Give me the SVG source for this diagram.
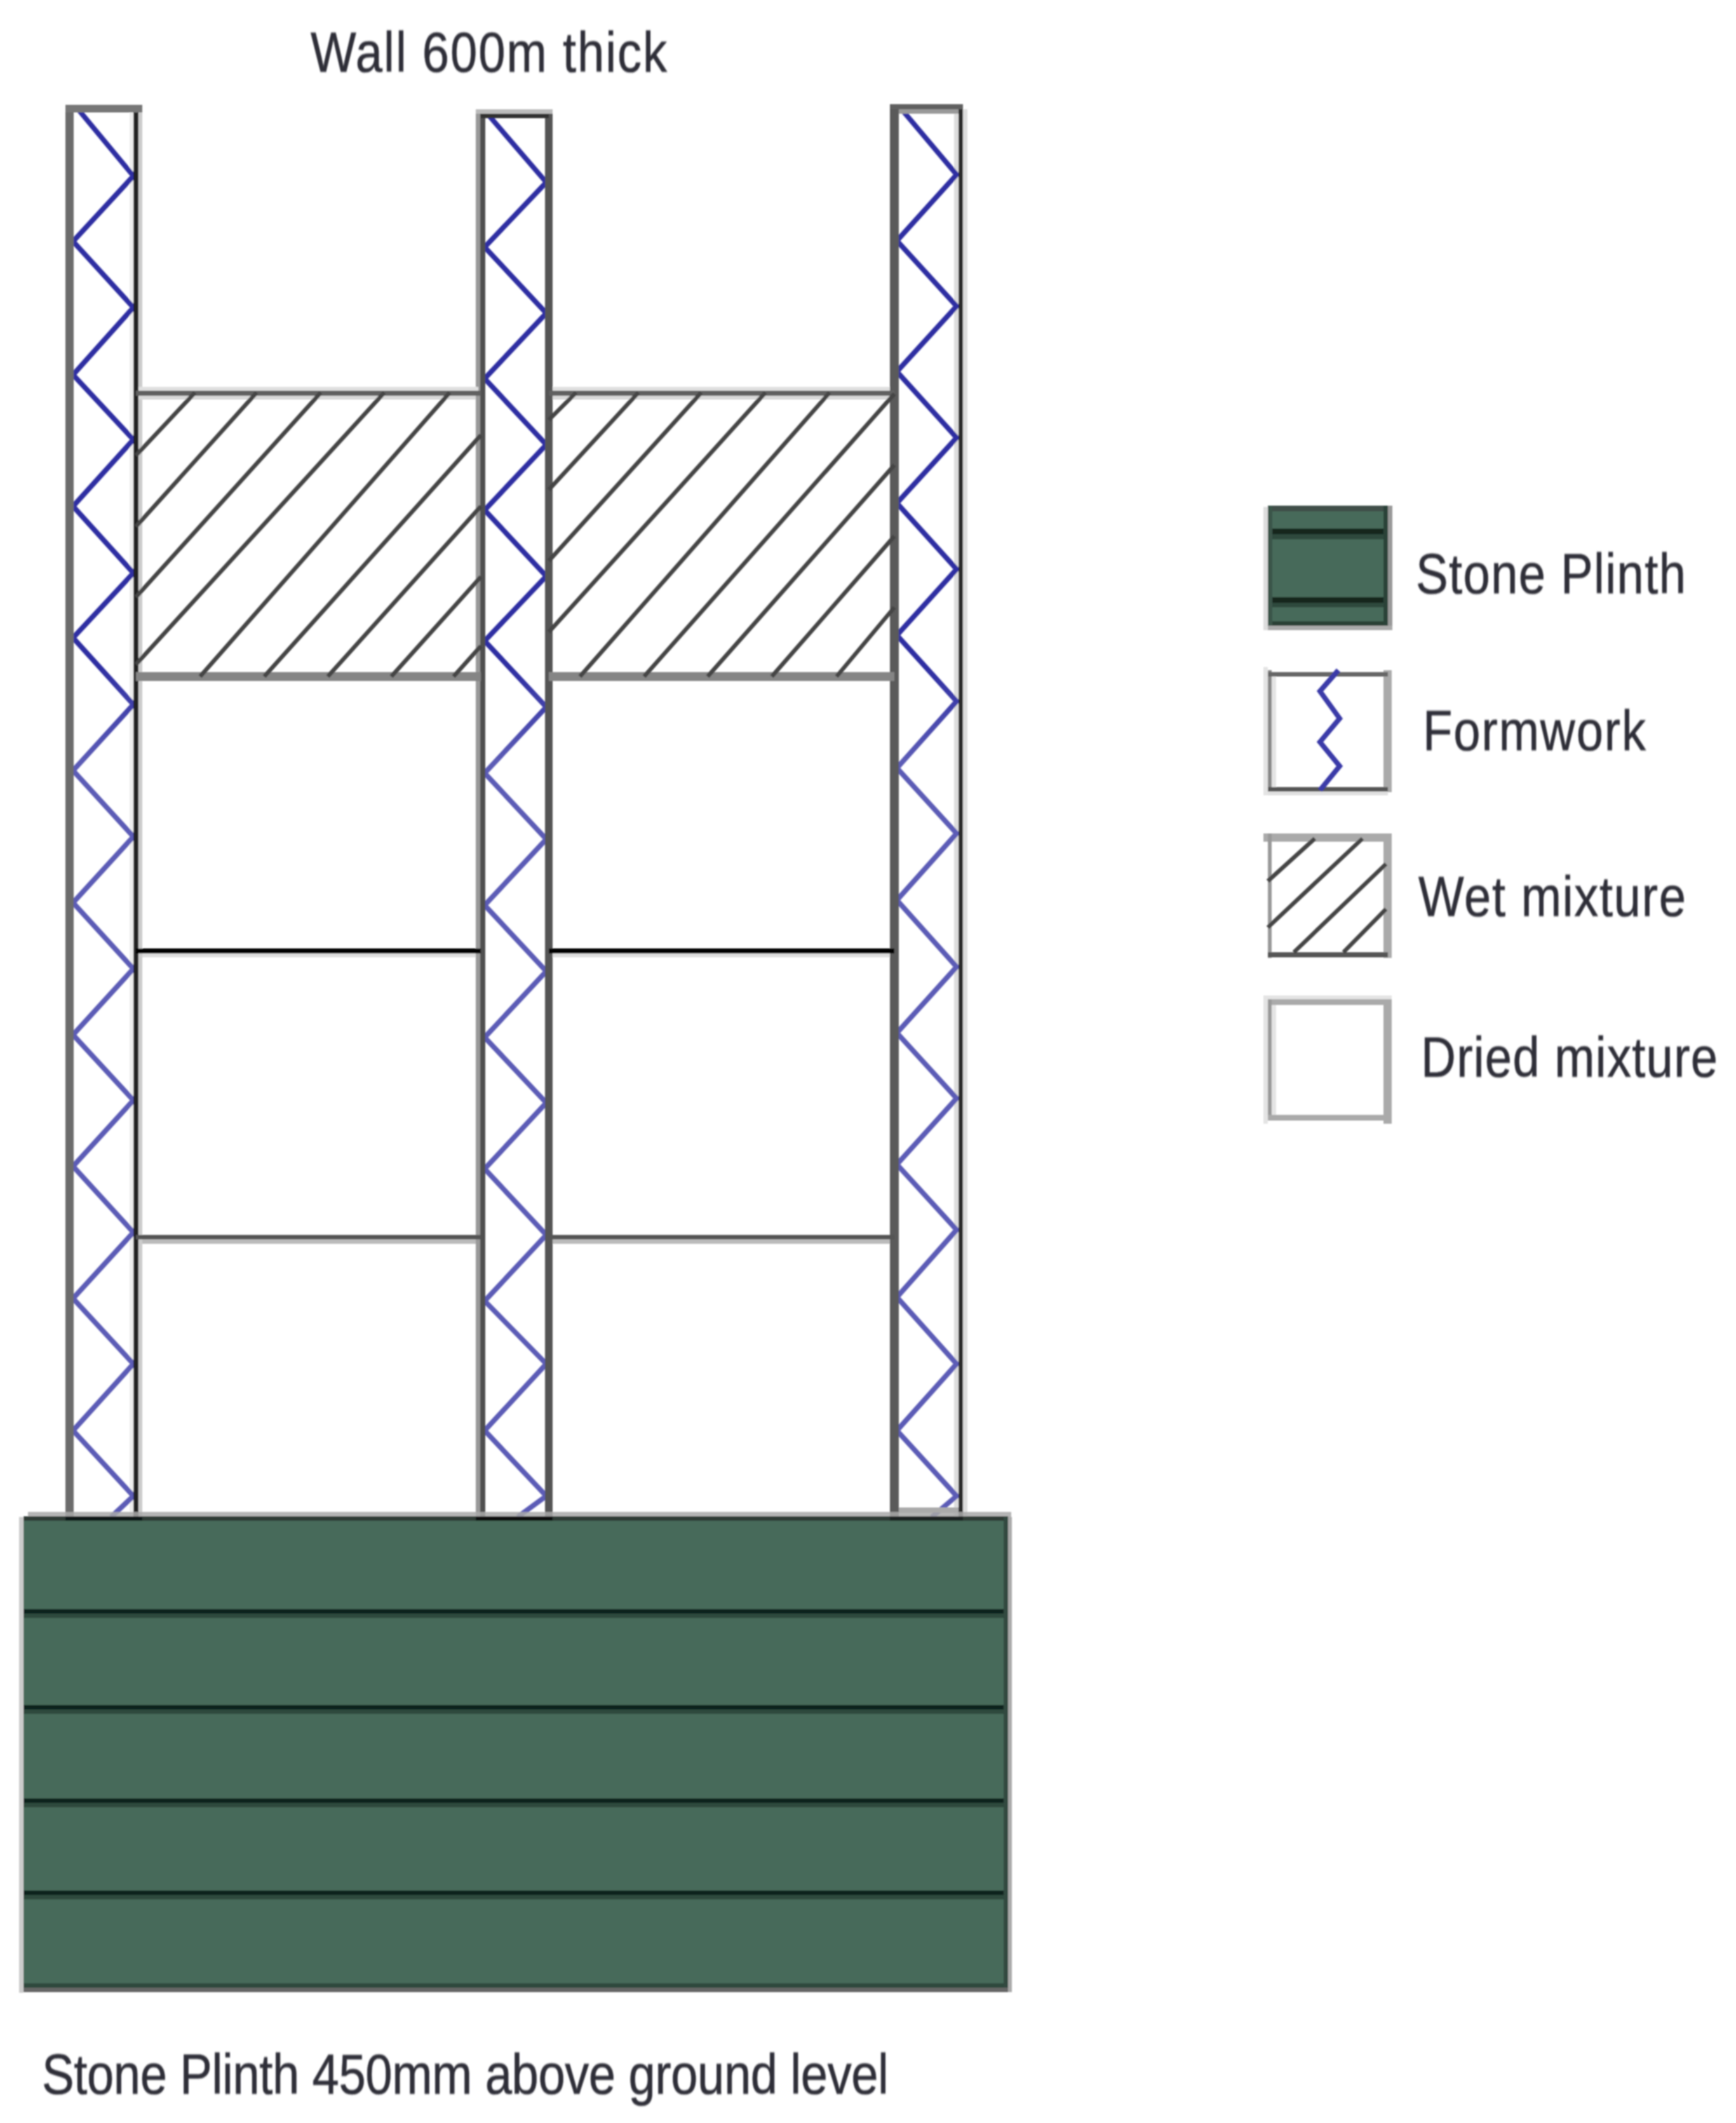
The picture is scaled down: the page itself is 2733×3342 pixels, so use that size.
<svg xmlns="http://www.w3.org/2000/svg" width="2733" height="3342" viewBox="0 0 2733 3342">
<defs>
<filter id="soft" x="0" y="0" width="2733" height="3342" filterUnits="userSpaceOnUse"><feGaussianBlur stdDeviation="1.2"/></filter>
<filter id="softer" x="-5%" y="-30%" width="110%" height="160%"><feGaussianBlur stdDeviation="1.2"/></filter>
<linearGradient id="zig" gradientUnits="userSpaceOnUse" x1="0" y1="1050" x2="0" y2="1200"><stop offset="0" stop-color="#2e2ea2"/><stop offset="1" stop-color="#5c5cb6"/></linearGradient>
</defs>
<style>
.zig{fill:none;stroke:url(#zig);stroke-width:8;stroke-linejoin:miter}
.zigd{fill:none;stroke:#3a3aa8;stroke-width:8}
.h{fill:none;stroke:#444;stroke-width:6.5}
.lbl{font-family:"Liberation Sans",Arial,sans-serif;font-size:76px;fill:#2f2f38;stroke:#2f2f38;stroke-width:.6}
</style>
<rect width="2733" height="3342" fill="#fff"/>
<g id="diagram" filter="url(#soft)">
<g id="col-1">
<rect x="204" y="172" width="6" height="2216" fill="#eee"/><rect x="218" y="172" width="6" height="2216" fill="#ccc"/>
<polyline class="zig" points="123,172 210,277 115,380 210,484 115,590 210,692 115,797 210,902 115,1004 210,1109 115,1213 210,1317 115,1421 210,1525 115,1629 210,1732 115,1836 210,1940 115,2044 210,2147 115,2252 210,2355 175,2388"/>
<rect x="103" y="165" width="13" height="2223" fill="#6c6c6c"/><rect x="210" y="172" width="8" height="2216" fill="#222"/><rect x="103" y="165" width="121" height="12" fill="#777"/>
</g>
<g id="col-2">
<polyline class="zig" points="769,181 860,287 763,389 860,493 763,596 860,700 763,803 860,907 763,1009 860,1113 763,1217 860,1321 763,1425 860,1529 763,1633 860,1736 763,1840 860,1944 763,2048 860,2147 763,2252 860,2355 815,2388"/>
<rect x="749" y="172" width="7" height="2216" fill="#999"/><rect x="756" y="172" width="8" height="2216" fill="#505050"/><rect x="858" y="172" width="12" height="2216" fill="#555"/>
<rect x="749" y="172" width="121" height="7" fill="#bbb"/><rect x="756" y="179" width="108" height="7" fill="#333"/>
</g>
<g id="col-3">
<rect x="1502" y="172" width="7" height="2216" fill="#ddd"/><rect x="1516" y="172" width="7" height="2216" fill="#ddd"/>
<polyline class="zig" points="1416,168 1506,275 1412,379 1506,482 1412,585 1506,689 1412,792 1506,896 1412,1000 1506,1104 1412,1209 1506,1312 1412,1417 1506,1522 1412,1626 1506,1729 1412,1833 1506,1936 1412,2042 1506,2147 1412,2252 1506,2355 1467,2388"/>
<rect x="1401" y="164" width="14" height="2224" fill="#5a5a5a"/><rect x="1509" y="164" width="7" height="2224" fill="#2a2a2a"/>
<rect x="1401" y="164" width="115" height="8" fill="#606060"/><rect x="1415" y="172" width="94" height="7" fill="#999"/>
<rect x="1415" y="2373" width="94" height="8" fill="#aaa"/>
</g>
<g id="wet-left">
<rect x="218" y="609" width="535" height="6" fill="#e0e0e0"/><rect x="214" y="615" width="543" height="8" fill="#606060"/><rect x="218" y="623" width="531" height="6" fill="#d8d8d8"/>
<rect x="214" y="1058" width="543" height="14" fill="#858585"/>
<path class="h" d="M214 717L307 618M214 829L404 618M214 940L505 618M214 1046L605 618M315 1065L708 618M416 1065L757 685M516 1065L757 797M616 1065L757 908M714 1065L757 1017"/>
</g>
<g id="wet-right">
<rect x="870" y="609" width="531" height="6" fill="#e0e0e0"/><rect x="864" y="615" width="544" height="8" fill="#606060"/><rect x="870" y="623" width="531" height="6" fill="#d8d8d8"/>
<rect x="864" y="1058" width="544" height="14" fill="#858585"/>
<path class="h" d="M864 661L907 618M864 771L1005 618M864 883L1104 618M864 995L1205 618M913 1065L1306 618M1014 1065L1408 620M1114 1065L1408 732M1215 1065L1408 844M1317 1065L1408 956"/>
</g>
<g id="dried-lines">
<rect x="214" y="1493" width="543" height="8" fill="#000"/><rect x="224" y="1501" width="525" height="6" fill="#ddd"/>
<rect x="864" y="1493" width="544" height="8" fill="#000"/><rect x="870" y="1501" width="531" height="6" fill="#ddd"/>
<rect x="214" y="1944" width="543" height="7" fill="#555"/><rect x="224" y="1951" width="525" height="7" fill="#bbb"/>
<rect x="864" y="1944" width="544" height="7" fill="#555"/><rect x="870" y="1951" width="531" height="7" fill="#bbb"/>
</g>
<g id="plinth">
<rect x="30" y="2388" width="7" height="749" fill="#ccc"/>
<rect x="44" y="2380" width="1548" height="8" fill="#a8a8a8" opacity=".85"/>
<rect x="37" y="2388" width="1550" height="743" fill="#466b5a"/>
<rect x="37" y="2387" width="1550" height="7" fill="#2f3b36"/>
<rect x="103" y="2387" width="121" height="7" fill="#0f1512"/><rect x="749" y="2387" width="121" height="7" fill="#0a0a0a"/><rect x="1401" y="2387" width="115" height="7" fill="#1e2220"/>
<g fill="#10201a"><rect x="37" y="2533" width="1550" height="7"/><rect x="37" y="2684" width="1550" height="7"/><rect x="37" y="2831" width="1550" height="7"/><rect x="37" y="2976" width="1550" height="7"/></g>
<g fill="#2e4a3d"><rect x="37" y="2540" width="1550" height="7"/><rect x="37" y="2691" width="1550" height="7"/><rect x="37" y="2838" width="1550" height="7"/><rect x="37" y="2983" width="1550" height="7"/></g>
<rect x="37" y="3122" width="1550" height="7" fill="#2f483c"/><rect x="37" y="3129" width="1550" height="7" fill="#666"/>
<rect x="1580" y="2388" width="7" height="741" fill="#33493f"/><rect x="1587" y="2388" width="6" height="748" fill="#aaa"/>
</g>
<g id="legend-stone">
<rect x="1989" y="798" width="7" height="194" fill="#ddd"/>
<rect x="1996" y="798" width="189" height="187" fill="#466b5a"/>
<rect x="1996" y="796" width="189" height="9" fill="#404f48"/><rect x="1996" y="832" width="189" height="9" fill="#15251d"/><rect x="1996" y="841" width="189" height="8" fill="#2e4a3d"/><rect x="1996" y="940" width="189" height="9" fill="#15251d"/><rect x="1996" y="949" width="189" height="7" fill="#2e4a3d"/><rect x="1996" y="978" width="189" height="7" fill="#2a3f35"/>
<rect x="1996" y="796" width="7" height="189" fill="#3a554a"/><rect x="2178" y="796" width="7" height="189" fill="#2b4338"/>
<rect x="2185" y="796" width="7" height="196" fill="#999"/><rect x="1996" y="985" width="196" height="7" fill="#aaa"/>
</g>
<g id="legend-formwork">
<rect x="1989" y="1050" width="7" height="202" fill="#e4e4e4"/><rect x="2002" y="1065" width="7" height="174" fill="#e4e4e4"/>
<rect x="1996" y="1055" width="6" height="192" fill="#888"/><rect x="2178" y="1055" width="13" height="192" fill="#aaa"/>
<rect x="1996" y="1058" width="189" height="7" fill="#666"/><rect x="1996" y="1239" width="189" height="7" fill="#555"/><rect x="1996" y="1246" width="189" height="6" fill="#e0e0e0"/>
<polyline class="zigd" points="2107,1055 2078,1088 2109,1131 2078,1168 2109,1206 2078,1244"/>
</g>
<g id="legend-wet">
<rect x="1989" y="1312" width="202" height="13" fill="#aaa"/>
<rect x="1996" y="1312" width="6" height="196" fill="#999"/><rect x="2178" y="1312" width="13" height="196" fill="#aaa"/><rect x="1996" y="1499" width="189" height="8" fill="#555"/>
<path class="h" d="M2070 1320L1996 1387M2145 1320L1996 1460M2182 1360L2037 1499M2182 1431L2115 1499"/>
</g>
<g id="legend-dried">
<rect x="1989" y="1567" width="202" height="6" fill="#e4e4e4"/><rect x="1989" y="1567" width="7" height="202" fill="#e4e4e4"/><rect x="2002" y="1582" width="7" height="173" fill="#e4e4e4"/>
<rect x="1996" y="1573" width="189" height="9" fill="#aaa"/><rect x="1996" y="1573" width="6" height="189" fill="#999"/><rect x="2178" y="1573" width="13" height="196" fill="#aaa"/><rect x="1996" y="1755" width="195" height="9" fill="#aaa"/>
</g>
</g>
<g id="labels">
<text class="lbl" filter="url(#softer)" transform="translate(489 113) scale(1 1.18)" textLength="561">Wall 600m thick</text>
<text class="lbl" filter="url(#softer)" transform="translate(2229 934) scale(1 1.18)" textLength="425">Stone Plinth</text>
<text class="lbl" filter="url(#softer)" transform="translate(2240 1181) scale(1 1.18)" textLength="351">Formwork</text>
<text class="lbl" filter="url(#softer)" transform="translate(2233 1442) scale(1 1.18)" textLength="421">Wet mixture</text>
<text class="lbl" filter="url(#softer)" transform="translate(2237 1695) scale(1 1.18)" textLength="467">Dried mixture</text>
<text class="lbl" filter="url(#softer)" transform="translate(66 3296) scale(1 1.18)" textLength="1333">Stone Plinth 450mm above ground level</text>
</g>
</svg>
